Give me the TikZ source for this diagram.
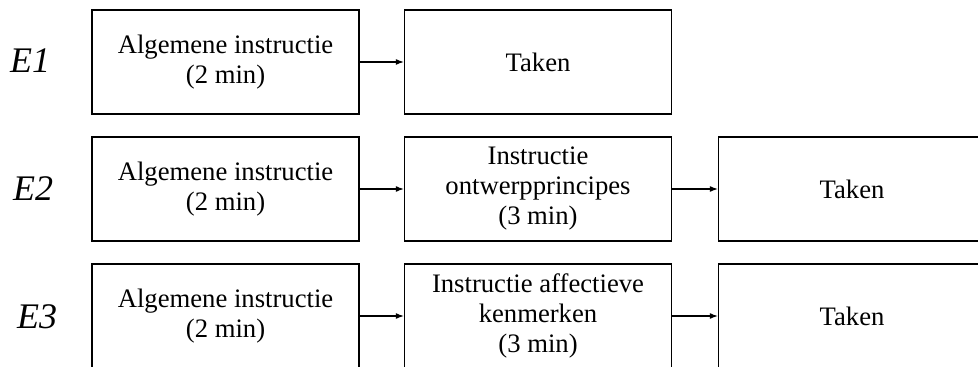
\documentclass[tikz,border=0pt]{standalone}
\usepackage{fontspec}
\setmainfont{Liberation Serif}
\usetikzlibrary{arrows.meta}
\begin{document}
\begin{tikzpicture}[x=.75pt, y=-.75pt, >={Latex[length=6pt, width=4.5pt]},
  stap/.style={draw, line width=1pt, minimum width=267*.75pt, minimum height=104*.75pt,
    align=center, font=\fontsize{20}{22.5}\selectfont, inner sep=0pt},
  groep/.style={font=\fontsize{27}{30}\selectfont\itshape, anchor=center}]
\useasboundingbox (0,0) rectangle (978,367);
\clip (0,0) rectangle (978,367);
%Gruppen
\node[groep] (e1) at (30,61) {E1};
\node[groep] (e2) at (33,189) {E2};
\node[groep] (e3) at (37,317) {E3};
%Zeile 1
\node[stap] (a1) at (225.5,62) {Algemene instructie\\(2 min)};
\node[stap] (t1) at (538,62) {Taken};
%Zeile 2
\node[stap] (a2) at (225.5,189) {Algemene instructie\\(2 min)};
\node[stap] (i2) at (538,189) {Instructie\\ontwerpprincipes\\(3 min)};
\node[stap] (t2) at (852,189) {Taken};
%Zeile 3
\node[stap] (a3) at (225.5,316) {Algemene instructie\\(2 min)};
\node[stap] (i3) at (538,316) {Instructie affectieve\\kenmerken\\(3 min)};
\node[stap] (t3) at (852,316) {Taken};
%Pfeile
\draw[line width=.9pt, ->] (a1) -- (t1);
\draw[line width=.9pt, ->] (a2) -- (i2);
\draw[line width=.9pt, ->] (i2) -- (t2);
\draw[line width=.9pt, ->] (a3) -- (i3);
\draw[line width=.9pt, ->] (i3) -- (t3);
\end{tikzpicture}
\end{document}
